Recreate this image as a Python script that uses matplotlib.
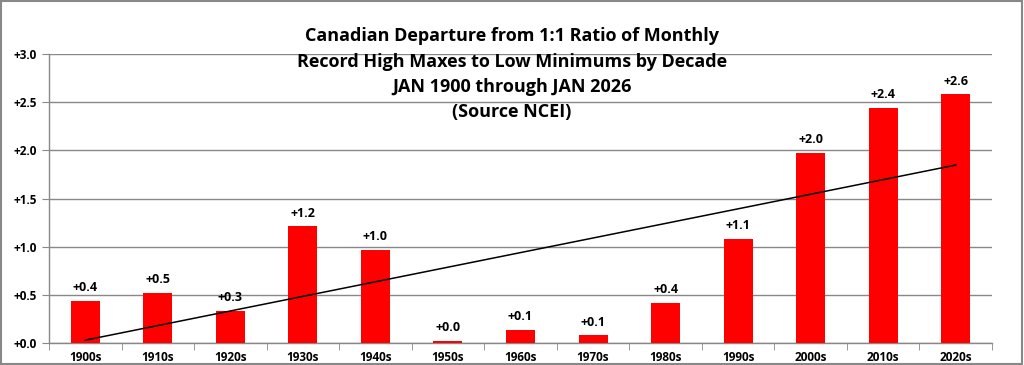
import numpy as np
import matplotlib.pyplot as plt
from matplotlib.patches import Rectangle

decades = ['1900s', '1910s', '1920s', '1930s', '1940s', '1950s', '1960s',
           '1970s', '1980s', '1990s', '2000s', '2010s', '2020s']
values = [0.44, 0.52, 0.33, 1.21, 0.97, 0.02, 0.14, 0.08, 0.42, 1.08, 1.97, 2.44, 2.58]

title = ('Canadian Departure from 1:1 Ratio of Monthly\n'
         'Record High Maxes to Low Minimums by Decade\n'
         'JAN 1900 through JAN 2026\n'
         '(Source NCEI)')

plt.rcParams['font.family'] = ['Open Sans', 'DejaVu Sans']

fig = plt.figure(figsize=(10.24, 3.65), dpi=100)
ax = fig.add_axes([49 / 1024, 1 - 343 / 365, (992 - 49) / 1024, (343 - 54) / 365])

x = np.arange(len(decades))
ax.bar(x, values, width=0.4, color='#ff0000', zorder=3)

# linear trendline (like Excel)
k, b = np.polyfit(x, values, 1)
ax.plot(x, k * x + b, color='black', lw=1.1, zorder=4)

for xi, v in zip(x, values):
    ax.text(xi, v + 0.07, f'{v:+.1f}', ha='center', va='bottom',
            fontsize=9, fontweight='bold')

ax.set_xlim(-0.5, len(decades) - 0.5)
ax.set_ylim(0, 3.0)
ax.set_yticks(np.arange(0, 3.01, 0.5))
ax.set_yticklabels([f'{t:+.1f}' for t in np.arange(0, 3.01, 0.5)],
                   fontsize=8.5, fontweight='bold')
ax.set_xticks(x)
ax.set_xticklabels(decades, fontsize=8.5, fontweight='bold')
ax.set_xticks(np.arange(-0.5, len(decades)), minor=True)
ax.tick_params(axis='x', which='major', length=0, pad=6)
ax.tick_params(axis='x', which='minor', length=5, color='#888888')
ax.tick_params(axis='y', length=5, color='#888888', pad=4)

ax.grid(axis='y', color='#888888', lw=1, zorder=0)
for s in ['top', 'right']:
    ax.spines[s].set_visible(False)
for s in ['left', 'bottom']:
    ax.spines[s].set_color('#888888')
    ax.spines[s].set_linewidth(1)

fig.text(0.5, 0.925, title, ha='center', va='top', fontsize=13,
         fontweight='bold', linespacing=1.52)

fig.patches.append(Rectangle((0.001, 0.002), 0.997, 0.995, transform=fig.transFigure,
                             fill=False, edgecolor='#888888', lw=1.5))

fig.savefig('out.png', dpi=100)
